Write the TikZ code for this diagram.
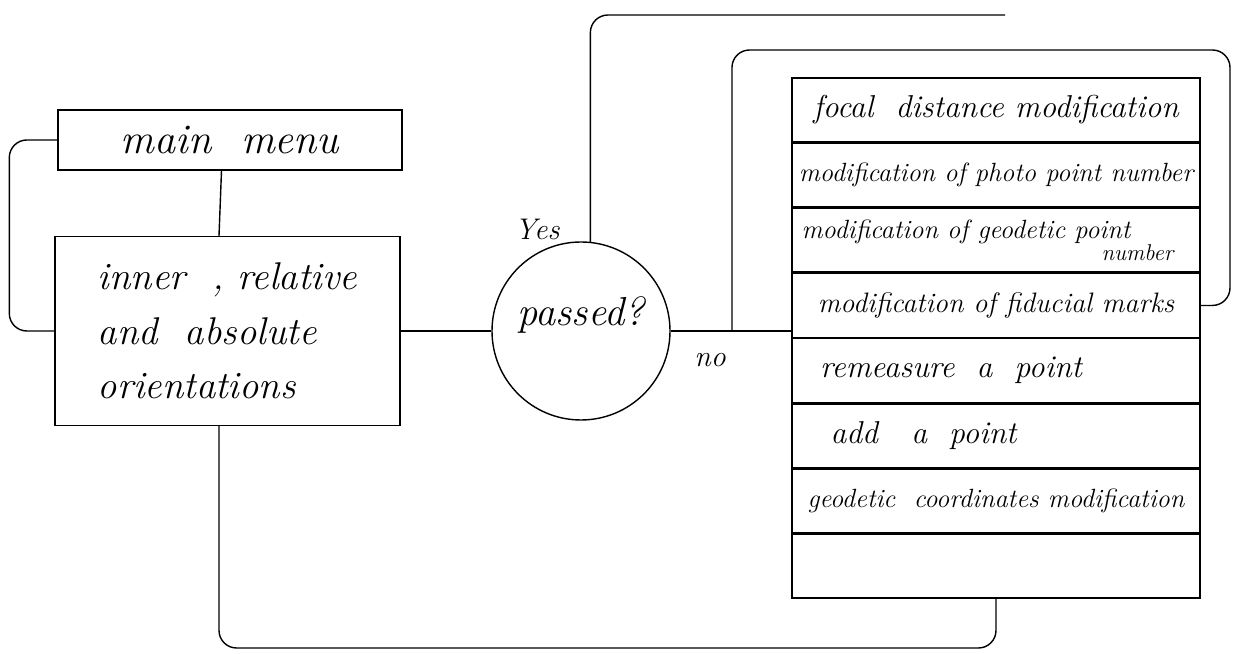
\documentclass[tikz,border=0pt]{standalone}
\usepackage{tikz}
\usetikzlibrary{positioning, calc}

\begin{document}
\begin{tikzpicture}[
    box/.style={draw, thick, inner sep=2pt},
    menurow/.style={draw, thick, minimum width=8.16cm, minimum height=1.275cm,
                    align=center, inner sep=1pt,
                    font=\itshape\fontsize{15}{17}\selectfont},
    line/.style={thick, rounded corners=10pt},
    tag/.style={font=\itshape\fontsize{17}{19}\selectfont},
  ]
    \useasboundingbox (0,0) rectangle (24.94,13.08);

    % Left column
    \node[box, minimum width=6.88cm, minimum height=1.2cm,
          font=\itshape\fontsize{24}{28}\selectfont] (menu) at (4.6,10.28) {main\ \ menu};
    \node[box, minimum width=6.9cm, minimum height=3.78cm, align=left,
          font=\itshape\fontsize{22}{31}\selectfont] (orient) at (4.55,6.46)
      {inner\ \ , relative\\and\ \ absolute\\orientations\hspace*{0.4cm}};

    % Decision
    \node[draw, thick, circle, minimum size=3.56cm,
          font=\itshape\fontsize{23}{26}\selectfont] (pass) at (11.62,6.46)
      {\raisebox{0.1cm}[0pt][0pt]{passed?}};

    % Modification menu
    \node[menurow, font=\itshape\fontsize{18}{20}\selectfont] (row1) at (19.92,10.88)
      {focal\ \ distance modification};
    \node[menurow, below=0pt of row1] (row2) {modification of photo point number};
    \node[menurow, below=0pt of row2, align=left] (row3)
      {modification of geodetic point\hspace*{1.2cm}\\[-4pt]\hspace*{6cm}{\fontsize{13}{13}\selectfont number}};
    \node[menurow, below=0pt of row3, font=\itshape\fontsize{16}{18}\selectfont] (row4)
      {modification of fiducial marks};
    \node[menurow, below=0pt of row4, font=\itshape\fontsize{18}{20}\selectfont] (row5)
      {remeasure\ \ a\ \ point\hspace*{1.8cm}};
    \node[menurow, below=0pt of row5, font=\itshape\fontsize{18}{20}\selectfont] (row6)
      {add\ \ \ a\ \ point\hspace*{2.9cm}};
    \node[menurow, below=0pt of row6] (row7)
      {geodetic\ \ coordinates modification};
    \node[menurow, below=0pt of row7] (row8) {};

    % Connectors
    \coordinate (split) at ($(pass.east)!0.508!(pass.east -| row4.west)$);
    \coordinate (back) at (20.1,12.78);
    \coordinate (floor) at (0,0.12);

    \draw[line] ([xshift=-0.17cm]menu.south) -- ([xshift=-0.17cm]orient.north);
    \draw[line] (orient.west) -- ++(-0.9,0) |- (menu.west);
    \draw[line] (orient.east) -- (pass.west);
    \draw[line] (pass.east) -- (pass.east -| row4.west);
    \draw[line] (split) |- (24.6,12.08) |- (row4.east);
    \draw[line] (pass.84) |- (back);
    \draw[line] (row8.south) -- (row8.south |- floor) -| ([xshift=-0.17cm]orient.south);

    % Labels
    \node[tag] (yes) at (10.74,8.5) {Yes};
    \node[tag] (no) at (14.2,5.88) {no};
  \end{tikzpicture}
\end{document}
